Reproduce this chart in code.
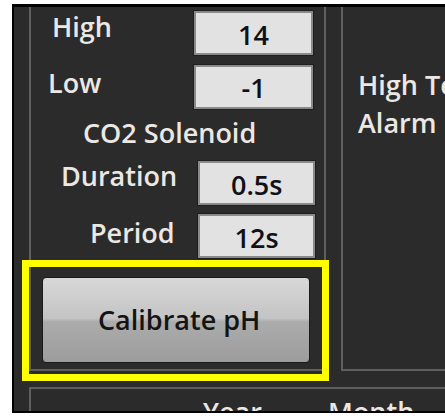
<!DOCTYPE html>
<html>
<head>
<meta charset="utf-8">
<script src="https://cdn.jsdelivr.net/npm/chart.js@4.4.0/dist/chart.umd.min.js"></script>
<style>
  html, body { margin: 0; padding: 0; background: #fff; overflow: hidden; }
  #page { position: relative; width: 445px; height: 416px; overflow: hidden; }
  #panel {
    position: absolute; left: 12px; top: 4px; width: 440px; height: 407px;
    background: #2b2b2b; border-left: 2px solid #000; border-top: 3px solid #000; border-bottom: 2px solid #000;
  }
  .line { position: absolute; background: #5f5f5f; }
  .txt { position: absolute; font-family: "Open Sans", sans-serif; font-size: 27px; line-height: 27px; white-space: nowrap; }
  .lbl { color: #ebe8e4; font-weight: 600; }
  .val { color: #101018; font-weight: 600; }
  .box {
    position: absolute; background: #e2e2e2; border: 2px solid #8a8a8a; box-sizing: border-box;
    box-shadow: 0 0 0 1px #1e1e1e;
  }
  #hilite { position: absolute; left: 22px; top: 260px; width: 307px; height: 121px; border: 7px solid #ffff00; box-sizing: border-box; }
  #btn {
    position: absolute; left: 42px; top: 277px; width: 268px; height: 86px; box-sizing: border-box;
    border: 1px solid #1a1a1a; border-radius: 4px;
    background: linear-gradient(#d8d8d8 0%, #c4c4c4 48%, #acacac 52%, #9c9c9c 100%);
  }
</style>
</head>
<body>
<div id="page">
  <div id="panel"></div>
</div>
<script>
// labels and values shown in the panel
const limitLabels = ['High', 'Low'];
const limitValues = ['14', '-1'];
const solenoidTitle = 'CO2 Solenoid';
const solenoidLabels = ['Duration', 'Period'];
const solenoidValues = ['0.5s', '12s'];
const alarmLabels = ['High Temp', 'Alarm'];
const tableHeaders = ['Year', 'Month'];
const buttonText = 'Calibrate pH';

const page = document.getElementById('page');
const FS = 27;

function addLine(x, y, w, h) {
  var d = document.createElement('div');
  d.className = 'line';
  d.style.cssText = 'left:' + x + 'px;top:' + y + 'px;width:' + w + 'px;height:' + h + 'px';
  page.appendChild(d);
}

// place text by its baseline
function addText(str, x, baseline, cls, align) {
  var d = document.createElement('div');
  d.className = 'txt ' + cls;
  d.textContent = str;
  d.style.top = (baseline - 0.888 * FS) + 'px';
  page.appendChild(d);
  var w = d.offsetWidth;
  if (align === 'center') d.style.left = (x - w / 2) + 'px';
  else d.style.left = x + 'px';
  return d;
}

function addBox(str, x, y, w, h, baseline) {
  var b = document.createElement('div');
  b.className = 'box';
  b.style.cssText = 'left:' + x + 'px;top:' + y + 'px;width:' + w + 'px;height:' + h + 'px';
  page.appendChild(b);
  addText(str, x + w / 2, baseline, 'val', 'center');
}

// group frames
addLine(29, 7, 2, 364);
addLine(29, 369, 297, 2);
addLine(324, 7, 2, 364);
addLine(341, 7, 2, 364);
addLine(341, 369, 110, 2);
addLine(29, 387, 420, 2);
addLine(29, 387, 2, 30);

// pH limits
var limitX = [52, 48];
var limitBase = [37, 93];
var limitBoxY = [11, 65];
var limitValBase = [45, 98];
for (var i = 0; i < limitLabels.length; i++) {
  addText(limitLabels[i], limitX[i], limitBase[i], 'lbl');
  addBox(limitValues[i], 194, limitBoxY[i], 119, 44, limitValBase[i]);
}

addText(solenoidTitle, 83, 143, 'lbl');

var solX = [61, 90];
var solBase = [186, 243];
var solBoxY = [161, 214];
var solValBase = [195, 248];
for (var j = 0; j < solenoidLabels.length; j++) {
  addText(solenoidLabels[j], solX[j], solBase[j], 'lbl');
  addBox(solenoidValues[j], 198, solBoxY[j], 117, 44, solValBase[j]);
}

// right group
addText(alarmLabels[0], 358, 95, 'lbl');
addText(alarmLabels[1], 358, 133, 'lbl');

// highlighted button
var hl = document.createElement('div'); hl.id = 'hilite'; page.appendChild(hl);
var btn = document.createElement('div'); btn.id = 'btn'; page.appendChild(btn);
var bt = addText(buttonText, 176, 330, '', 'center');
bt.style.fontWeight = '600';
bt.style.color = '#141414';

// table headers, cut by the bottom edge
addText(tableHeaders[0], 203, 422, 'lbl');
addText(tableHeaders[1], 328, 422, 'lbl');

var edge = document.createElement('div');
edge.style.cssText = 'position:absolute;left:12px;top:411px;width:440px;height:2px;background:#000';
page.appendChild(edge);
var white = document.createElement('div');
white.style.cssText = 'position:absolute;left:0;top:413px;width:445px;height:3px;background:#fff';
page.appendChild(white);
</script>
</body>
</html>
